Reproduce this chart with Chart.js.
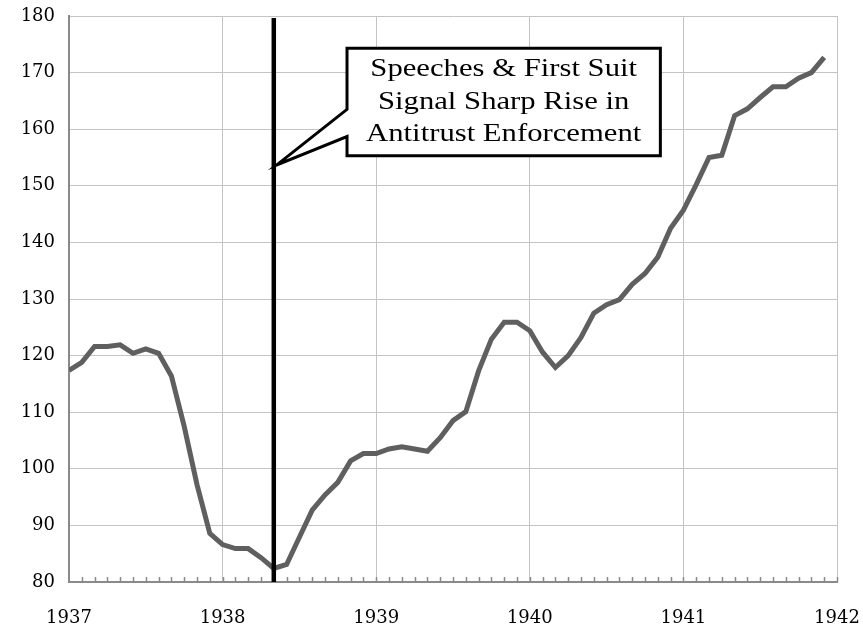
<!DOCTYPE html>
<html>
<head>
<meta charset="utf-8">
<script src="https://cdn.jsdelivr.net/npm/chart.js@4/dist/chart.umd.min.js"></script>
<style>
  html, body { margin: 0; padding: 0; background: #ffffff; }
  #wrap { width: 863px; height: 627px; position: relative; }
</style>
</head>
<body>
<div id="wrap"><canvas id="mainChart"></canvas></div>
<script>
// monthly index values, Jan 1937 .. Dec 1941
const startYear = 1937;
const endYear = 1942;
const monthlyValues = [
  117.4, 118.8, 121.6, 121.6, 121.9, 120.4, 121.2, 120.4, 116.4, 107.5, 97.2, 88.6,
  86.6, 85.9, 85.9, 84.3, 82.4, 83.1, 87.9, 92.7, 95.4, 97.6, 101.4, 102.7,
  102.7, 103.5, 103.9, 103.5, 103.1, 105.5, 108.5, 110.1, 117.3, 122.9, 125.9, 125.9,
  124.4, 120.6, 117.9, 120.0, 123.2, 127.5, 129.0, 129.9, 132.6, 134.5, 137.4, 142.5,
  145.7, 150.2, 155.0, 155.4, 162.4, 163.6, 165.6, 167.5, 167.5, 169.0, 170.0, 172.7
];
const yMin = 80;
const yMax = 180;
const yStep = 10;

// event marker: May 1938
const eventYear = 1938;
const eventMonth = 4;
const calloutLines = [
  "Speeches & First Suit",
  "Signal Sharp Rise in",
  "Antitrust Enforcement"
];
// callout anchored in data units: box [x0, x1] years, [yTop, yBottom] values, pointer tip
const calloutBox = { x0: 1938.81, x1: 1940.85, yTop: 174.3, yBottom: 155.3 };
const calloutPointer = { tipY: 153.7, y1: 163.5, y2: 158.7 };

const points = monthlyValues.map(function (v, i) {
  return { x: startYear + i / 12, y: v };
});
const eventX = eventYear + eventMonth / 12;

const tickFont = { family: "'DejaVu Serif', serif", size: 18 };
const gridColor = "#c4c4c4";
const axisColor = "#8a8a8a";

const monthTicks = {
  id: "monthTicks",
  beforeDatasetsDraw: function (chart) {
    const ctx = chart.ctx;
    const xs = chart.scales.x;
    const bottom = chart.chartArea.bottom;
    ctx.save();
    ctx.strokeStyle = axisColor;
    ctx.lineWidth = 1.5;
    const months = (endYear - startYear) * 12;
    for (let m = 1; m <= months; m += 1) {
      const px = Math.round(xs.getPixelForValue(startYear + m / 12)) + 0.5;
      ctx.beginPath();
      ctx.moveTo(px, bottom - 5);
      ctx.lineTo(px, bottom);
      ctx.stroke();
    }
    ctx.restore();
  }
};

const eventCallout = {
  id: "eventCallout",
  afterDatasetsDraw: function (chart) {
    const ctx = chart.ctx;
    const xs = chart.scales.x;
    const ys = chart.scales.y;
    const area = chart.chartArea;
    const ex = xs.getPixelForValue(eventX);

    ctx.save();
    // vertical event line
    ctx.strokeStyle = "#000000";
    ctx.lineWidth = 4.5;
    ctx.beginPath();
    ctx.moveTo(ex, area.top + 2);
    ctx.lineTo(ex, area.bottom);
    ctx.stroke();

    // callout shape
    const left = xs.getPixelForValue(calloutBox.x0);
    const right = xs.getPixelForValue(calloutBox.x1);
    const top = ys.getPixelForValue(calloutBox.yTop);
    const bottom = ys.getPixelForValue(calloutBox.yBottom);
    const tipX = ex + 3;
    const tipY = ys.getPixelForValue(calloutPointer.tipY);
    const p1 = ys.getPixelForValue(calloutPointer.y1);
    const p2 = ys.getPixelForValue(calloutPointer.y2);

    ctx.beginPath();
    ctx.moveTo(left, top);
    ctx.lineTo(right, top);
    ctx.lineTo(right, bottom);
    ctx.lineTo(left, bottom);
    ctx.lineTo(left, p2);
    ctx.lineTo(tipX, tipY);
    ctx.lineTo(left, p1);
    ctx.closePath();
    ctx.fillStyle = "#ffffff";
    ctx.fill();
    ctx.lineWidth = 3;
    ctx.lineJoin = "miter";
    ctx.strokeStyle = "#000000";
    ctx.stroke();

    // callout text (the original face runs wide, so stretch it a little)
    const cx = (left + right) / 2;
    const cy = (top + bottom) / 2;
    const lh = 32.5;
    const stretch = 1.18;
    ctx.fillStyle = "#000000";
    ctx.font = "26px 'Liberation Serif', serif";
    ctx.textAlign = "center";
    ctx.textBaseline = "middle";
    ctx.translate(cx, cy);
    ctx.scale(stretch, 1);
    calloutLines.forEach(function (line, i) {
      ctx.fillText(line, 0, (i - (calloutLines.length - 1) / 2) * lh);
    });
    ctx.restore();
  }
};

new Chart(document.getElementById("mainChart"), {
  type: "line",
  data: {
    datasets: [{
      label: "Index",
      data: points,
      borderColor: "#5f5f5f",
      borderWidth: 5,
      pointRadius: 0,
      tension: 0,
      fill: false
    }]
  },
  options: {
    responsive: true,
    maintainAspectRatio: false,
    animation: false,
    layout: { padding: { top: 16, right: 26, left: 0, bottom: 0 } },
    plugins: {
      legend: { display: false },
      tooltip: { enabled: false }
    },
    scales: {
      x: {
        type: "linear",
        min: startYear,
        max: endYear,
        ticks: {
          stepSize: 1,
          color: "#000000",
          font: tickFont,
          padding: 26,
          maxRotation: 0,
          callback: function (v) { return String(v); }
        },
        grid: { color: gridColor, lineWidth: 1, drawTicks: false },
        border: { color: axisColor, width: 2 },
        afterFit: function (scale) {
          scale.height = 45;
          scale.paddingLeft = 0;
          scale.paddingRight = 0;
        }
      },
      y: {
        min: yMin,
        max: yMax,
        ticks: {
          stepSize: yStep,
          color: "#000000",
          font: tickFont,
          padding: 14
        },
        grid: { color: gridColor, lineWidth: 1, drawTicks: false },
        border: { color: axisColor, width: 2 },
        afterFit: function (scale) {
          scale.width = 69;
          scale.paddingTop = 0;
          scale.paddingBottom = 0;
        }
      }
    }
  },
  plugins: [monthTicks, eventCallout]
});
</script>
</body>
</html>
